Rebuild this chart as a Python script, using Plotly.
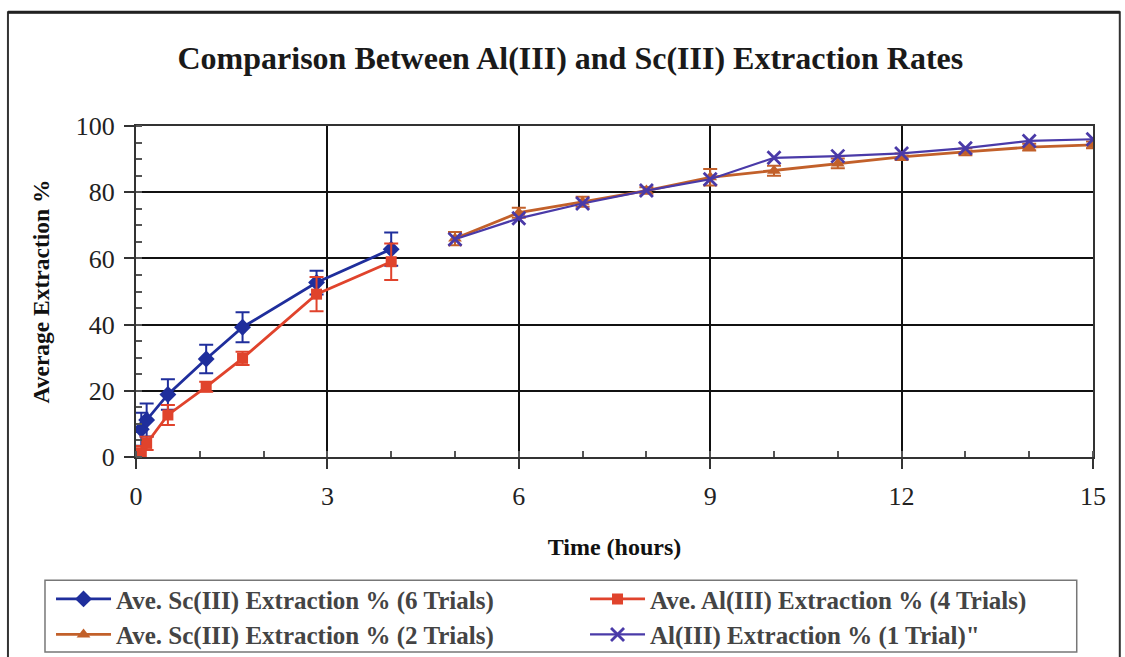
import plotly.graph_objects as go

# Early-time runs (hours) with replicate averages and error bars
t_early = [0.083, 0.167, 0.5, 1.1, 1.67, 2.83, 4.0]
sc_6trials = [8.4, 11.2, 18.9, 29.6, 39.2, 52.7, 62.8]
sc_6trials_err = [5.0, 5.0, 4.6, 4.3, 4.5, 3.6, 5.0]
al_4trials = [1.3, 4.1, 12.7, 21.2, 29.8, 49.2, 59.0]
al_4trials_err = [2.0, 2.0, 3.0, 1.5, 2.0, 5.2, 5.5]

# Later runs (hours)
t_late = [5, 6, 7, 8, 9, 10, 11, 12, 13, 14, 15]
sc_2trials = [66.0, 73.8, 77.1, 80.5, 84.5, 86.5, 88.7, 90.7, 92.2, 93.6, 94.3]
sc_2trials_err = [2.0, 1.5, 1.5, 1.0, 2.5, 1.5, 1.5, 1.0, 1.0, 1.0, 1.0]
al_1trial = [65.8, 72.1, 76.6, 80.5, 83.9, 90.4, 90.9, 91.7, 93.3, 95.5, 96.0]

x_ticks = [0, 3, 6, 9, 12, 15]
y_ticks = [0, 20, 40, 60, 80, 100]

SERIF = "Liberation Serif"
BLUE = "#1f2e9c"
RED = "#e0432c"
BROWN = "#c2602a"
PURPLE = "#4a3aa8"

fig = go.Figure()

fig.add_trace(go.Scatter(
    x=t_early, y=sc_6trials, name="Ave. Sc(III) Extraction % (6 Trials)",
    mode="lines+markers",
    line=dict(color=BLUE, width=2.8),
    marker=dict(symbol="diamond", size=13, color=BLUE),
    error_y=dict(type="data", array=sc_6trials_err, color=BLUE, thickness=2, width=7),
))
fig.add_trace(go.Scatter(
    x=t_early, y=al_4trials, name="Ave. Al(III) Extraction % (4 Trials)",
    mode="lines+markers",
    line=dict(color=RED, width=2.8),
    marker=dict(symbol="square", size=11, color=RED),
    error_y=dict(type="data", array=al_4trials_err, color=RED, thickness=2, width=7),
))
fig.add_trace(go.Scatter(
    x=t_late, y=sc_2trials, name="Ave. Sc(III) Extraction % (2 Trials)",
    mode="lines+markers",
    line=dict(color=BROWN, width=2.8),
    marker=dict(symbol="triangle-up", size=12, color=BROWN),
    error_y=dict(type="data", array=sc_2trials_err, color=BROWN, thickness=2, width=7),
))
fig.add_trace(go.Scatter(
    x=t_late, y=al_1trial, name="Al(III) Extraction % (1 Trial)\"",
    mode="lines+markers",
    line=dict(color=PURPLE, width=2.2),
    marker=dict(symbol="x-thin", size=13, color=PURPLE, line=dict(color=PURPLE, width=2.8)),
))

axis_common = dict(
    showgrid=True, gridcolor="#111111", gridwidth=2,
    showline=True, linecolor="#333333", linewidth=2, mirror=True,
    zeroline=False,
    ticks="outside", ticklen=10, tickwidth=1.5, tickcolor="#333333",
    tickfont=dict(family=SERIF, size=26, color="#222222"),
)

fig.update_xaxes(
    range=[0, 15], tickvals=x_ticks, ticklabelstandoff=5,
    minor=dict(dtick=1, ticks="inside", ticklen=6, tickcolor="#555555", showgrid=False),
    title=dict(text="Time (hours)", font=dict(family=SERIF, size=24, color="#111111", weight="bold"), standoff=28),
    **axis_common,
)
fig.update_yaxes(
    range=[0, 100], tickvals=y_ticks, ticklabelstandoff=4,
    minor=dict(dtick=5, ticks="inside", ticklen=6, tickcolor="#555555", showgrid=False),
    title=dict(text="Average Extraction %", font=dict(family=SERIF, size=23.5, color="#111111", weight="bold"), standoff=20),
    **axis_common,
)

fig.update_layout(
    width=1125, height=657,
    margin=dict(l=136, r=32, t=126, b=200, autoexpand=False),
    paper_bgcolor="white", plot_bgcolor="white",
    title=dict(
        text="Comparison Between Al(III) and Sc(III) Extraction Rates",
        font=dict(family=SERIF, size=32, color="#1a1a1a", weight="bold"),
        x=0.507, xanchor="center", y=0.912, yanchor="middle",
    ),
    showlegend=True,
    legend=dict(
        orientation="h", x=-0.0888, xanchor="left", y=-0.36, yanchor="top",
        font=dict(family=SERIF, size=25, color="#444444", weight="bold"),
        bgcolor="rgba(0,0,0,0)", borderwidth=0,
        itemwidth=55,
        entrywidth=464, entrywidthmode="pixels",
        traceorder="normal", tracegroupgap=0,
    ),
    shapes=[
        # outer chart frame
        dict(type="rect", xref="paper", yref="paper",
             x0=-0.1338, x1=1.028, y0=-0.62, y1=1.344,
             line=dict(color="#333333", width=2), layer="below"),
        dict(type="line", xref="paper", yref="paper",
             x0=-0.1338, x1=1.028, y0=1.344, y1=1.344,
             line=dict(color="#222222", width=3), layer="below"),
        # legend frame
        dict(type="rect", xref="paper", yref="paper",
             x0=-0.0951, x1=0.983, y0=-0.589, y1=-0.372,
             line=dict(color="#777777", width=1.5), fillcolor="white", layer="below"),
    ],
)

fig.write_html("out.html")
